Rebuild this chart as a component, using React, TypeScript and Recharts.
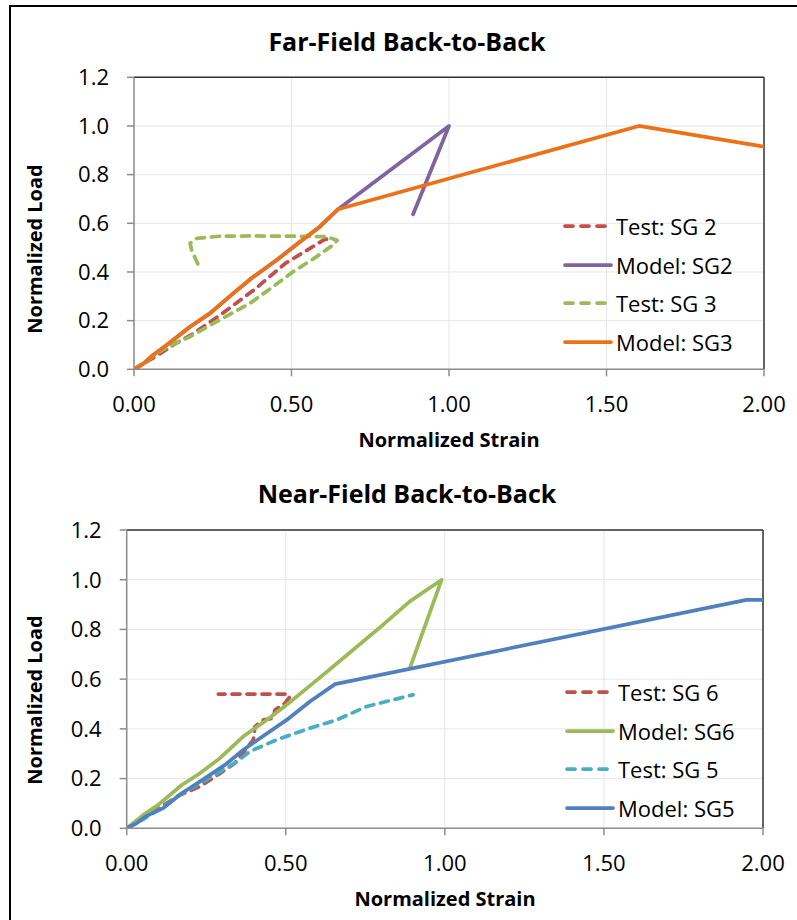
import React from "react";
import {
  CartesianGrid,
  Legend,
  Line,
  LineChart,
  ReferenceLine,
  XAxis,
  YAxis,
} from "recharts";

// axis ticks
const strainTicks = [0, 0.5, 1, 1.5, 2];
const loadTicks = [0, 0.2, 0.4, 0.6, 0.8, 1, 1.2];

// Far-field back-to-back
const sg2TestStrain = [0, 0.04, 0.09, 0.13, 0.18, 0.27, 0.38, 0.48, 0.55, 0.6, 0.62];
const sg2TestLoad = [0, 0.03, 0.07, 0.105, 0.14, 0.22, 0.325, 0.435, 0.49, 0.53, 0.538];

const sg2ModelStrain = [0, 0.032, 0.061, 0.104, 0.178, 0.241, 0.315, 0.373, 0.453, 0.527, 0.59, 0.648, 1.0, 0.886];
const sg2ModelLoad = [0, 0.025, 0.059, 0.1, 0.175, 0.23, 0.312, 0.374, 0.449, 0.524, 0.586, 0.658, 1.0, 0.637];

const sg3TestStrain = [0, 0.03, 0.072, 0.12, 0.178, 0.262, 0.368, 0.442, 0.505, 0.58, 0.632, 0.645, 0.611, 0.5, 0.378, 0.273, 0.199, 0.178, 0.183, 0.204];
const sg3TestLoad = [0, 0.02, 0.066, 0.1, 0.134, 0.196, 0.271, 0.34, 0.401, 0.463, 0.511, 0.53, 0.545, 0.547, 0.548, 0.547, 0.538, 0.518, 0.49, 0.429];

const sg3ModelStrain = [0, 0.032, 0.061, 0.104, 0.178, 0.241, 0.315, 0.373, 0.453, 0.527, 0.59, 0.648, 1.603, 2.0];
const sg3ModelLoad = [0, 0.025, 0.059, 0.1, 0.175, 0.23, 0.312, 0.374, 0.449, 0.524, 0.586, 0.658, 1.0, 0.915];

// Near-field back-to-back
const sg6TestStrain = [0, 0.05, 0.1, 0.167, 0.23, 0.293, 0.34, 0.398, 0.403, 0.43, 0.461, 0.466, 0.497, 0.513, 0.503, 0.4, 0.288];
const sg6TestLoad = [0, 0.04, 0.08, 0.134, 0.168, 0.221, 0.262, 0.356, 0.409, 0.436, 0.443, 0.476, 0.503, 0.53, 0.54, 0.54, 0.54];

const sg6ModelStrain = [0, 0.052, 0.099, 0.173, 0.23, 0.293, 0.366, 0.44, 0.503, 0.586, 0.649, 0.806, 0.89, 0.99, 0.89];
const sg6ModelLoad = [0, 0.054, 0.094, 0.174, 0.221, 0.282, 0.369, 0.436, 0.497, 0.584, 0.651, 0.819, 0.913, 1.0, 0.644];

const sg5TestStrain = [0, 0.05, 0.12, 0.157, 0.25, 0.346, 0.387, 0.471, 0.576, 0.66, 0.754, 0.9];
const sg5TestLoad = [0, 0.035, 0.09, 0.127, 0.195, 0.268, 0.309, 0.356, 0.403, 0.436, 0.49, 0.537];

const sg5ModelStrain = [0, 0.031, 0.058, 0.115, 0.173, 0.23, 0.309, 0.366, 0.419, 0.503, 0.576, 0.655, 1.948, 2.0];
const sg5ModelLoad = [0, 0.02, 0.047, 0.081, 0.141, 0.188, 0.255, 0.315, 0.362, 0.436, 0.51, 0.58, 0.919, 0.919];

const FONT = '"Open Sans", sans-serif';

type Series = { name: string; data: { x: number; y: number }[]; color: string; dashed: boolean };

const pts = (xs: number[], ys: number[]) => xs.map((x, i) => ({ x, y: ys[i] }));

const farSeries: Series[] = [
  { name: "Test: SG 2", data: pts(sg2TestStrain, sg2TestLoad), color: "#C0504D", dashed: true },
  { name: "Model: SG2", data: pts(sg2ModelStrain, sg2ModelLoad), color: "#8064A2", dashed: false },
  { name: "Test: SG 3", data: pts(sg3TestStrain, sg3TestLoad), color: "#9BBB59", dashed: true },
  { name: "Model: SG3", data: pts(sg3ModelStrain, sg3ModelLoad), color: "#EC7117", dashed: false },
];

const nearSeries: Series[] = [
  { name: "Test: SG 6", data: pts(sg6TestStrain, sg6TestLoad), color: "#C0504D", dashed: true },
  { name: "Model: SG6", data: pts(sg6ModelStrain, sg6ModelLoad), color: "#9BBB59", dashed: false },
  { name: "Test: SG 5", data: pts(sg5TestStrain, sg5TestLoad), color: "#4BACC6", dashed: true },
  { name: "Model: SG5", data: pts(sg5ModelStrain, sg5ModelLoad), color: "#4F81BD", dashed: false },
];

function LegendBox({ series }: { series: Series[] }) {
  return (
    <div style={{ fontFamily: FONT, fontSize: 22, color: "#000" }}>
      {series.map((s) => (
        <div key={s.name} style={{ height: 38.6, display: "flex", alignItems: "center" }}>
          <svg width={50} height={10} style={{ display: "block" }}>
            <line
              x1={2}
              y1={5}
              x2={s.dashed ? 42 : 48}
              y2={5}
              stroke={s.color}
              strokeWidth={3.75}
              strokeDasharray={s.dashed ? "8 8" : undefined}
              strokeLinecap="round"
            />
          </svg>
          <span style={{ marginLeft: 3, lineHeight: 1, whiteSpace: "nowrap" }}>{s.name}</span>
        </div>
      ))}
    </div>
  );
}

const axisStroke = { stroke: "#8c8c8c", strokeWidth: 1.5 };
const tickStyle = { fontSize: 22, fill: "#000", fontFamily: FONT };

function StrainChart({
  top,
  series,
  margin,
  legendPos,
}: {
  top: number;
  series: Series[];
  margin: { top: number; right: number; bottom: number; left: number };
  legendPos: { left: number; top: number };
}) {
  return (
    <div style={{ position: "absolute", left: 0, top }}>
      <LineChart width={797} height={460} margin={margin}>
        <CartesianGrid stroke="#e6e6e6" strokeWidth={1} />
        <XAxis
          type="number"
          dataKey="x"
          domain={[0, 2]}
          ticks={strainTicks}
          interval={0}
          allowDataOverflow
          tickFormatter={(v: number) => v.toFixed(2)}
          height={30}
          tick={tickStyle}
          tickSize={7}
          tickMargin={20}
          axisLine={axisStroke}
          tickLine={axisStroke}
        />
        <YAxis
          type="number"
          domain={[0, 1.2]}
          ticks={loadTicks}
          interval={0}
          allowDataOverflow
          tickFormatter={(v: number) => v.toFixed(1)}
          width={40}
          tick={tickStyle}
          tickSize={7}
          tickMargin={18}
          axisLine={axisStroke}
          tickLine={axisStroke}
        />
        <ReferenceLine y={1.2} stroke="#333" strokeWidth={1.5} />
        <ReferenceLine x={2} stroke="#333" strokeWidth={1.5} />
        {series.map((s) => (
          <Line
            key={s.name}
            name={s.name}
            data={s.data}
            dataKey="y"
            type="linear"
            stroke={s.color}
            strokeWidth={3.75}
            strokeDasharray={s.dashed ? "8 7" : undefined}
            strokeLinecap="round"
            strokeLinejoin="round"
            dot={false}
            activeDot={false}
            isAnimationActive={false}
          />
        ))}
        <Legend
          layout="vertical"
          align="center"
          verticalAlign="middle"
          wrapperStyle={{ left: legendPos.left, top: legendPos.top, width: 220 }}
          content={() => <LegendBox series={series} />}
        />
      </LineChart>
    </div>
  );
}

export default function App() {
  const titleStyle = { fontFamily: FONT, fontWeight: 700, fill: "#000" } as const;
  return (
    <div
      style={{
        position: "absolute",
        left: 0,
        top: 0,
        width: 797,
        height: 920,
        overflow: "hidden",
        background: "#fff",
        fontFamily: FONT,
      }}
    >
      <div
        style={{
          position: "absolute",
          left: 9,
          top: 5,
          width: 820,
          height: 940,
          borderTop: "2px solid #000",
          borderLeft: "2px solid #000",
        }}
      />
      <StrainChart
        top={0}
        series={farSeries}
        margin={{ top: 77.3, right: 33, bottom: 60.7, left: 94 }}
        legendPos={{ left: 563, top: 206.7 }}
      />
      <StrainChart
        top={460}
        series={nearSeries}
        margin={{ top: 70, right: 34, bottom: 61.7, left: 86.7 }}
        legendPos={{ left: 565, top: 212.7 }}
      />
      <svg
        width={797}
        height={920}
        style={{ position: "absolute", left: 0, top: 0, pointerEvents: "none" }}
      >
        <text x={407} y={50.5} textAnchor="middle" fontSize={25} {...titleStyle}>
          Far-Field Back-to-Back
        </text>
        <text x={449} y={446.5} textAnchor="middle" fontSize={20} {...titleStyle}>
          Normalized Strain
        </text>
        <text transform="translate(41.5,249) rotate(-90)" textAnchor="middle" fontSize={20} {...titleStyle}>
          Normalized Load
        </text>
        <text x={407} y={502.5} textAnchor="middle" fontSize={25} {...titleStyle}>
          Near-Field Back-to-Back
        </text>
        <text x={445} y={905.5} textAnchor="middle" fontSize={20} {...titleStyle}>
          Normalized Strain
        </text>
        <text transform="translate(41.5,700) rotate(-90)" textAnchor="middle" fontSize={20} {...titleStyle}>
          Normalized Load
        </text>
      </svg>
    </div>
  );
}
